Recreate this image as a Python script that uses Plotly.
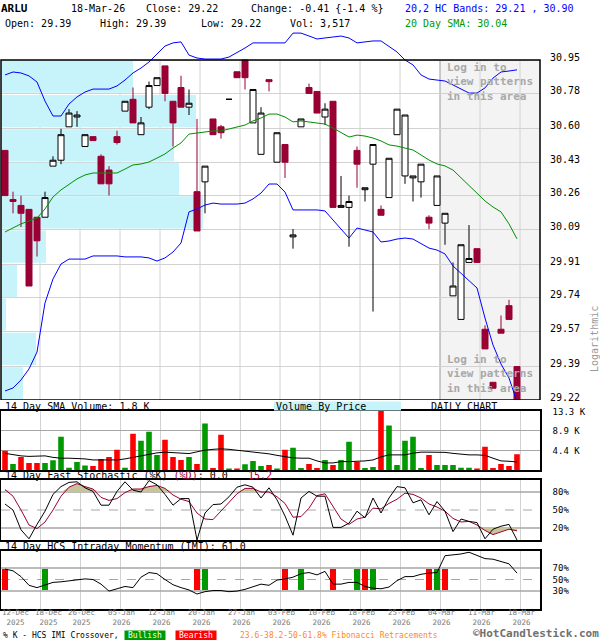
import datetime as dt
import plotly.graph_objects as go

# ---------------- daily data ----------------
TICKER = "ARLU"

trade_dates = [
    "2025-12-12", "2025-12-15", "2025-12-16", "2025-12-17", "2025-12-18", "2025-12-19",
    "2025-12-22", "2025-12-23", "2025-12-24", "2025-12-26", "2025-12-29", "2025-12-30",
    "2025-12-31", "2026-01-02", "2026-01-05", "2026-01-06", "2026-01-07", "2026-01-08",
    "2026-01-09", "2026-01-12", "2026-01-13", "2026-01-14", "2026-01-15", "2026-01-16",
    "2026-01-20", "2026-01-21", "2026-01-22", "2026-01-23", "2026-01-26", "2026-01-27",
    "2026-01-28", "2026-01-29", "2026-01-30", "2026-02-02", "2026-02-03", "2026-02-04",
    "2026-02-05", "2026-02-06", "2026-02-09", "2026-02-10", "2026-02-11", "2026-02-12",
    "2026-02-13", "2026-02-17", "2026-02-18", "2026-02-19", "2026-02-20", "2026-02-23",
    "2026-02-24", "2026-02-25", "2026-02-26", "2026-02-27", "2026-03-02", "2026-03-03",
    "2026-03-04", "2026-03-05", "2026-03-06", "2026-03-09", "2026-03-10", "2026-03-11",
    "2026-03-12", "2026-03-13", "2026-03-16", "2026-03-17", "2026-03-18",
]

open_ = [30.49, 30.24, 30.21, 30.19, 30.15, 30.15, 30.41, 30.44, 30.61, 30.66,
         30.51, 30.56, 30.46, 30.39, 30.56, 30.69, 30.75, 30.57, 30.71, 30.82,
         30.92, 30.74, 30.81, 30.71, 30.28, 30.33, 30.65, 30.61, 30.75, 30.89,
         30.95, 30.63, 30.47, 30.85, 30.43, 30.52, 30.05, 30.61, 30.81, 30.79,
         30.66, 30.74, 30.20, 30.20, 30.49, 30.29, 30.42, 30.19, 30.25, 30.57,
         30.36, 30.35, 30.33, 30.15, 30.21, 30.12, 29.75, 29.63, 29.92, 29.99,
         29.58, 29.31, 29.58, 29.70, 29.39]
high = [30.49, 30.28, 30.26, 30.19, 30.15, 30.28, 30.46, 30.60, 30.70, 30.69,
        30.57, 30.56, 30.47, 30.41, 30.59, 30.74, 30.81, 30.66, 30.84, 30.86,
        30.92, 30.74, 30.87, 30.80, 30.65, 30.41, 30.65, 30.62, 30.75, 30.89,
        30.95, 30.80, 30.71, 30.85, 30.58, 30.52, 30.09, 30.65, 30.83, 30.79,
        30.73, 30.74, 30.36, 30.26, 30.51, 30.30, 30.52, 30.21, 30.45, 30.70,
        30.67, 30.36, 30.42, 30.16, 30.36, 30.17, 29.92, 30.01, 30.11, 29.99,
        29.60, 29.31, 29.65, 29.73, 29.39]
low = [30.26, 30.17, 30.10, 29.80, 29.95, 30.15, 30.41, 30.42, 30.61, 30.61,
       30.51, 30.54, 30.32, 30.26, 30.52, 30.69, 30.63, 30.57, 30.70, 30.82,
       30.74, 30.51, 30.71, 30.67, 30.08, 30.17, 30.57, 30.55, 30.75, 30.86,
       30.80, 30.63, 30.47, 30.79, 30.43, 30.35, 29.99, 30.61, 30.78, 30.68,
       30.62, 30.20, 30.20, 30.00, 30.30, 30.23, 29.67, 30.16, 30.25, 30.57,
       30.32, 30.23, 30.25, 30.09, 30.21, 30.01, 29.75, 29.63, 29.92, 29.92,
       29.48, 29.28, 29.56, 29.63, 29.22]
close = [30.26, 30.23, 30.17, 29.80, 30.03, 30.25, 30.44, 30.57, 30.68, 30.67,
         30.57, 30.54, 30.32, 30.32, 30.53, 30.74, 30.63, 30.63, 30.82, 30.86,
         30.78, 30.63, 30.71, 30.73, 30.08, 30.41, 30.57, 30.58, 30.75, 30.86,
         30.86, 30.80, 30.68, 30.84, 30.58, 30.43, 30.06, 30.65, 30.78, 30.68,
         30.70, 30.20, 30.21, 30.23, 30.42, 30.30, 30.52, 30.16, 30.45, 30.70,
         30.67, 30.36, 30.42, 30.12, 30.36, 30.17, 29.80, 30.01, 29.94, 29.92,
         29.48, 29.28, 29.56, 29.63, 29.22]

volume = [4280, 1350, 2930, 1580, 1580, 1580, 2180, 7440, 530, 1800,
          980, 900, 2480, 2930, 4500, 530, 8100, 6540, 8570, 3380,
          6760, 2930, 2250, 2930, 1350, 10370, 450, 7900, 230, 230,
          1280, 2030, 900, 1130, 230, 4500, 4960, 450, 1350, 450,
          2250, 1130, 2250, 6310, 1800, 450, 680, 14000, 9920, 1130,
          6540, 7440, 450, 3380, 1130, 1130, 1130, 530, 530, 230,
          5180, 450, 1350, 900, 3517]
# 1 = green (up-volume) bar, 0 = red bar
vol_up = [0, 1, 0, 0, 0, 1, 1, 1, 1, 1,
          1, 0, 0, 0, 0, 1, 0, 1, 1, 1,
          0, 0, 0, 1, 0, 1, 0, 0, 1, 0,
          1, 1, 1, 0, 1, 0, 1, 1, 0, 0,
          1, 0, 1, 1, 0, 1, 1, 0, 1, 1,
          1, 1, 1, 0, 1, 1, 1, 1, 1, 0,
          0, 0, 0, 0, 0]
vol_sma14 = [3720, 3380, 3160, 3040, 3040, 3160, 2820, 2640, 2640, 2640,
             2480, 2250, 2250, 2250, 2250, 2480, 2820, 3270, 3540, 3830,
             3990, 3830, 3670, 3670, 4060, 4440, 4620, 4730, 4620, 4440,
             4280, 4130, 3830, 3610, 3270, 2930, 2710, 2640, 2640, 2030,
             1580, 1580, 1870, 1870, 1870, 2030, 2250, 2930, 3380, 3380,
             3380, 3760, 3990, 3990, 3990, 3940, 3720, 3490, 3380, 3380,
             3270, 2640, 2030, 1950, 1800]

bb_upper = [30.874, 30.889, 30.884, 30.869, 30.838, 30.741, 30.665, 30.665, 30.726, 30.762,
            30.787, 30.802, 30.802, 30.802, 30.818, 30.848, 30.884, 30.909, 30.940, 30.981,
            31.021, 31.037, 31.042, 30.975, 30.960, 30.955, 30.955, 30.955, 30.965, 30.986,
            31.011, 31.037, 31.037, 31.037, 31.037, 31.037, 31.087, 31.087, 31.072, 31.057,
            31.062, 31.067, 31.072, 31.062, 31.037, 31.042, 31.047, 31.047, 31.021, 30.991,
            30.950, 30.925, 30.874, 30.853, 30.848, 30.843, 30.823, 30.802, 30.782, 30.782,
            30.808, 30.858, 30.889, 30.894, 30.900]
bb_lower = [29.266, 29.281, 29.322, 29.378, 29.464, 29.714, 29.836, 29.912, 29.937, 29.937,
            29.937, 29.953, 29.953, 29.953, 29.953, 29.948, 29.948, 29.948, 29.943, 29.927,
            29.943, 29.973, 30.019, 30.177, 30.192, 30.212, 30.222, 30.217, 30.217, 30.217,
            30.222, 30.243, 30.273, 30.319, 30.319, 30.278, 30.187, 30.187, 30.187, 30.187,
            30.182, 30.136, 30.090, 30.044, 30.095, 30.085, 30.075, 30.024, 30.029, 30.039,
            30.044, 30.039, 30.014, 29.993, 29.983, 29.963, 29.902, 29.866, 29.826, 29.790,
            29.637, 29.500, 29.403, 29.332, 29.210]
sma20 = [30.075, 30.095, 30.116, 30.131, 30.146, 30.192, 30.253, 30.289, 30.319, 30.345,
         30.365, 30.375, 30.375, 30.375, 30.375, 30.395, 30.416, 30.421, 30.431, 30.451,
         30.472, 30.502, 30.528, 30.573, 30.579, 30.584, 30.589, 30.589, 30.599, 30.609,
         30.619, 30.640, 30.655, 30.675, 30.675, 30.660, 30.635, 30.640, 30.635, 30.629,
         30.624, 30.604, 30.579, 30.558, 30.568, 30.563, 30.553, 30.538, 30.518, 30.512,
         30.502, 30.492, 30.467, 30.441, 30.421, 30.411, 30.390, 30.350, 30.309, 30.273,
         30.233, 30.202, 30.177, 30.116, 30.040]

stoch_k = [60, 50, 17, 2, 26, 48, 76, 89, 96, 97,
           87, 81, 58, 58, 81, 97, 83, 80, 99, 92,
           76, 58, 69, 69, 0, 45, 59, 60, 72, 88,
           92, 88, 70, 87, 67, 40, 8, 70, 81, 73,
           73, 21, 21, 28, 48, 37, 70, 45, 70, 89,
           87, 62, 67, 42, 64, 48, 14, 35, 31, 29,
           2, 18, 23, 26, 0.0]
stoch_d = [84, 73, 50, 25, 19, 30, 50, 73, 88, 94,
           89, 85, 71, 66, 69, 79, 85, 85, 89, 91,
           86, 75, 68, 64, 45, 35, 34, 48, 63, 77,
           86, 86, 80, 80, 72, 61, 38, 39, 53, 74,
           77, 55, 35, 26, 35, 38, 53, 52, 61, 68,
           78, 76, 70, 60, 55, 48, 36, 30, 31, 25,
           16, 9, 14, 18, 15.2]

imi = [68, 65, 55, 40, 36, 41, 45, 46, 48, 50,
       51, 50, 42, 30, 34, 38, 36, 54, 62, 60,
       50, 41, 36, 32, 25, 29, 31, 31, 29, 30,
       33, 38, 42, 40, 49, 51, 54, 60, 62, 58,
       64, 42, 42, 45, 45, 38, 35, 34, 37, 48,
       55, 55, 59, 61, 62, 91, 92, 94, 97, 91,
       86, 85, 81, 77, 61.0]
# %K / IMI crossover days (index into trade_dates)
cross_bull = [5, 25, 37, 44, 46, 54]
cross_bear = [0, 24, 35, 41, 45, 53, 55]

# price scale labels and volume-by-price per band (band k spans label k..k+1)
price_ticks = [29.22, 29.39, 29.57, 29.74, 29.91, 30.09, 30.26, 30.43, 30.60, 30.78, 30.95]
vbp_volume = [4400, 7000, 1000, 3200, 9000, 40400, 35600, 34600, 39000, 26400]

vol_ticks = [4400, 8900, 13300]
stoch_ticks = [20, 50, 80]
imi_ticks = [30, 50, 70]

axis_label_dates = ["2025-12-12", "2025-12-18", "2025-12-26", "2026-01-05", "2026-01-12",
                    "2026-01-20", "2026-01-27", "2026-02-03", "2026-02-10", "2026-02-18",
                    "2026-02-25", "2026-03-04", "2026-03-11", "2026-03-18"]
locked_from = "2026-03-04"

# ---------------- page geometry (pixels) ----------------
W, H = 600, 640
PLOT_L, PLOT_R = 1, 540
MAIN_TOP, MAIN_BOT, MAIN_EXT = 60, 400, 28
VOL_TOP, VOL_BOT = 410.5, 470
STO_TOP, STO_BOT = 480, 540
IMI_TOP, IMI_BOT = 550.5, 608.5
SLOT, FIRST_X = 8, 5          # pixels per trading day, centre of first candle
GRID_OFF = 3 / SLOT

MONO = "DejaVu Sans Mono"
CRIMSON = "#990033"
GREEN = "#009900"
RED = "#ff0000"
BLUE = "#0000ff"
CYAN = "#c6f4fa"
KHAKI = "#c9c39a"
GRID_LIGHT = "#d2d2d2"
GRID_DARK = "#a6a6a6"


def py2paper(py):
    return 1 - py / H


def px2paper(px):
    return (px - PLOT_L) / (PLOT_R - PLOT_L)


n = len(trade_dates)
xi = list(range(n))
x_lo = (PLOT_L - FIRST_X) / SLOT
x_hi = (PLOT_R - FIRST_X) / SLOT

p_lo, p_hi = price_ticks[0], price_ticks[-1]
per_px = (p_hi - p_lo) / (MAIN_BOT - MAIN_TOP)
p_ext = p_hi + (MAIN_TOP - MAIN_EXT) * per_px

label_idx = [trade_dates.index(d) for d in axis_label_dates]
grid_x = [i + GRID_OFF for i in label_idx[1:]]
lock_x = trade_dates.index(locked_from) + GRID_OFF

band_mid = [(a + b) / 2 for a, b in zip(price_ticks[:-1], price_ticks[1:])]
band_h = price_ticks[1] - price_ticks[0]
vbp_range = (PLOT_R - PLOT_L) * 200  # shares per pixel of bar length = 200

fig = go.Figure()

# ---- main price panel ----
fig.add_trace(go.Bar(
    x=vbp_volume, y=band_mid, orientation="h", width=band_h * 0.965,
    marker=dict(color=CYAN, line=dict(width=0)), xaxis="x", yaxis="y",
    hoverinfo="skip"))

fig.add_trace(go.Candlestick(
    x=xi, open=open_, high=high, low=low, close=close,
    text=trade_dates, xaxis="x2", yaxis="y", whiskerwidth=0,
    increasing=dict(line=dict(color="black", width=1), fillcolor="white"),
    decreasing=dict(line=dict(color=CRIMSON, width=1), fillcolor=CRIMSON)))

fig.add_trace(go.Scatter(x=xi, y=sma20, mode="lines", xaxis="x2", yaxis="y",
                         line=dict(color="#008f00", width=1)))
fig.add_trace(go.Scatter(x=xi, y=bb_upper, mode="lines", xaxis="x2", yaxis="y",
                         line=dict(color=BLUE, width=1)))
fig.add_trace(go.Scatter(x=xi, y=bb_lower, mode="lines", xaxis="x2", yaxis="y",
                         line=dict(color=BLUE, width=1)))

# ---- volume panel ----
fig.add_trace(go.Bar(
    x=xi, y=volume, width=0.7, xaxis="x3", yaxis="y3",
    marker=dict(color=[GREEN if u else RED for u in vol_up], line=dict(width=0))))
fig.add_trace(go.Scatter(x=xi, y=vol_sma14, mode="lines", xaxis="x3", yaxis="y3",
                         line=dict(color="black", width=1)))

# ---- fast stochastic panel ----
over_b = [max(d, 80) for d in stoch_d]
over_s = [min(d, 20) for d in stoch_d]
for base, edge in ((80, over_b), (20, over_s)):
    fig.add_trace(go.Scatter(x=xi, y=[base] * n, mode="lines", xaxis="x4", yaxis="y4",
                             line=dict(width=0), hoverinfo="skip"))
    fig.add_trace(go.Scatter(x=xi, y=edge, mode="lines", xaxis="x4", yaxis="y4",
                             line=dict(width=0), fill="tonexty", fillcolor=KHAKI,
                             hoverinfo="skip"))
fig.add_trace(go.Scatter(x=xi, y=stoch_d, mode="lines", xaxis="x4", yaxis="y4",
                         line=dict(color=CRIMSON, width=1)))
fig.add_trace(go.Scatter(x=xi, y=stoch_k, mode="lines", xaxis="x4", yaxis="y4",
                         line=dict(color="black", width=1)))

# ---- intraday momentum panel ----
SIG_LO, SIG_HI = 32, 68
fig.add_trace(go.Bar(x=cross_bear, y=[SIG_HI - SIG_LO] * len(cross_bear), base=SIG_LO,
                     width=0.75, marker=dict(color=RED, line=dict(width=0)),
                     xaxis="x5", yaxis="y5"))
fig.add_trace(go.Bar(x=cross_bull, y=[SIG_HI - SIG_LO] * len(cross_bull), base=SIG_LO,
                     width=0.75, marker=dict(color=GREEN, line=dict(width=0)),
                     xaxis="x5", yaxis="y5"))
fig.add_trace(go.Scatter(x=xi, y=imi, mode="lines", xaxis="x5", yaxis="y5",
                         line=dict(color="black", width=1)))

# ---------------- axes ----------------
frame = dict(showline=True, mirror=True, linecolor="black", linewidth=1.5)


def time_axis(anchor, **kw):
    d = dict(anchor=anchor, domain=[0, 1], range=[x_lo, x_hi], showticklabels=False,
             ticks="", zeroline=False, showgrid=True, gridcolor=GRID_LIGHT, gridwidth=1,
             tickmode="array", tickvals=grid_x, fixedrange=True, automargin=False)
    d.update(frame)
    d.update(kw)
    return d


def side_axis(anchor, top, bot, rng, vals, text, grid, shift=0):
    d = dict(anchor=anchor, domain=[py2paper(bot), py2paper(top)], range=rng,
             side="right", tickmode="array", tickvals=vals, ticktext=text,
             showgrid=grid, gridcolor=GRID_DARK, gridwidth=1, zeroline=False,
             ticks="", ticklabelstandoff=9, ticklabelshift=shift, fixedrange=True,
             automargin=False, tickfont=dict(family=MONO, size=9, color="black"))
    d.update(frame)
    return d


fig.update_layout(
    width=W, height=H, autosize=False,
    margin=dict(l=PLOT_L, r=W - PLOT_R, t=0, b=0, pad=0, autoexpand=False),
    paper_bgcolor="white", plot_bgcolor="rgba(0,0,0,0)",
    showlegend=False, boxgap=0.25, boxgroupgap=0, barmode="overlay",
    font=dict(family=MONO, size=10, color="black"),
    xaxis=dict(anchor="y", domain=[0, 1], range=[0, vbp_range], visible=False,
               fixedrange=True, automargin=False),
    xaxis2=dict(anchor="y", overlaying="x", range=[x_lo, x_hi], visible=False,
                rangeslider=dict(visible=False), fixedrange=True, automargin=False),
    yaxis=dict(anchor="x", domain=[py2paper(MAIN_BOT), py2paper(MAIN_EXT)],
               range=[p_lo, p_ext], side="right", tickmode="array",
               tickvals=price_ticks, ticktext=[f"{p:.2f}" for p in price_ticks],
               showgrid=True, gridcolor=GRID_LIGHT, zeroline=False, ticks="",
               ticklabelstandoff=9, ticklabelshift=-3, fixedrange=True, automargin=False,
               tickfont=dict(family=MONO, size=10, color="black")),
    xaxis3=time_axis("y3"),
    yaxis3=side_axis("x3", VOL_TOP, VOL_BOT, [0, vol_ticks[-1]], vol_ticks,
                     [f"{v / 1000:.1f} K" for v in vol_ticks], True, shift=1),
    xaxis4=time_axis("y4"),
    yaxis4=side_axis("x4", STO_TOP, STO_BOT, [0, 100], stoch_ticks,
                     [f"{v}%" for v in stoch_ticks], False),
    xaxis5=time_axis("y5"),
    yaxis5=side_axis("x5", IMI_TOP, IMI_BOT, [0, 100], imi_ticks,
                     [f"{v}%" for v in imi_ticks], False),
)

# ---------------- shapes ----------------
shapes = [
    # locked pattern area
    dict(type="rect", xref="x2", yref="y", x0=lock_x, x1=x_hi, y0=p_lo, y1=p_hi,
         fillcolor="#f3f3f3", line=dict(width=0), layer="below"),
]
for g in grid_x:
    shapes.append(dict(type="line", xref="x2", yref="y", x0=g, x1=g, y0=p_lo, y1=p_hi,
                       line=dict(color="#9a9a9a" if g == lock_x else GRID_LIGHT, width=1),
                       layer="below"))
shapes.append(dict(type="rect", xref="paper", yref="y", x0=0, x1=1, y0=p_lo, y1=p_hi,
                   line=dict(color="black", width=1.5), layer="above"))
# reference levels in the oscillator panels
for ax, solid, dashed in (("4", (20, 80), 50), ("5", (30, 70), 50)):
    for lvl in solid:
        shapes.append(dict(type="line", xref="x" + ax, yref="y" + ax, x0=x_lo, x1=x_hi,
                           y0=lvl, y1=lvl, line=dict(color=GRID_DARK, width=1.5),
                           layer="between"))
    shapes.append(dict(type="line", xref="x" + ax, yref="y" + ax, x0=x_lo, x1=x_hi,
                       y0=dashed, y1=dashed, line=dict(color=GRID_DARK, width=1, dash="dash"),
                       layer="between"))
# label strip behind "Volume By Price"
shapes.append(dict(type="rect", xref="paper", yref="paper",
                   x0=px2paper(274), x1=px2paper(401), y0=py2paper(410.5), y1=py2paper(401.5),
                   fillcolor=CYAN, line=dict(width=0), layer="above"))
fig.update_layout(shapes=shapes)


# ---------------- text ----------------
def label(text, px, py, size=10, color="black", xanchor="left", **kw):
    fig.add_annotation(text=text, xref="paper", yref="paper", x=px2paper(px), y=py2paper(py),
                       xanchor=xanchor, yanchor="middle", showarrow=False, borderpad=0,
                       font=dict(family=MONO, size=size, color=color), **kw)


last_day = dt.date.fromisoformat(trade_dates[-1])
chg = close[-1] - close[-2]
chg_pct = chg / close[-2] * 100

label(f"<b>{TICKER}</b>", 0, 9, size=11)
label(last_day.strftime("%d-%b-%y"), 70, 9)
label(f"Close: {close[-1]:.2f}", 145, 9)
label(f"Change: {chg:.2f} {{{chg_pct:.1f} %}}", 250, 9)
label(f"20,2 HC Bands: {bb_lower[-1]:.2f} , {bb_upper[-1]:.2f}", 404, 9, color=BLUE)
label(f"Open: {open_[-1]:.2f}", 4, 24)
label(f"High: {high[-1]:.2f}", 99, 24)
label(f"Low: {low[-1]:.2f}", 200, 24)
label(f"Vol: {volume[-1]:,}", 289, 24)
label(f"20 Day SMA: {sma20[-1]:.2f}", 404, 24, color="#009900")

lock_msg = "<b>Log in to<br>view patterns<br>in this area</b>"
label(lock_msg, 446, 82, size=11, color="#a8a8a8", align="left")
label(lock_msg, 446, 374, size=11, color="#a8a8a8", align="left")
label("Logarithmic", 594, 339, color="#999999", xanchor="center", textangle=-90)

label(f"14 Day SMA Volume: {vol_sma14[-1] / 1000:.1f} K", 4, 406)
label("Volume By Price", 275, 406)
label("DAILY CHART", 430, 406)
label(f"14 Day Fast Stochastic (%K) <span style='color:{CRIMSON}'>(%D)</span>: "
      f"{stoch_k[-1]:.1f}", 4, 475)
label(f"{stoch_d[-1]:.1f}", 247, 475, color=CRIMSON)
label(f"14 Day HCS Intraday Momentum (IMI): {imi[-1]:.1f}", 4, 546)

# date axis under the last panel: day-month over year
for k, i in enumerate(label_idx):
    d = dt.date.fromisoformat(trade_dates[i])
    if k == 0:
        xpos, anchor, shift = x_lo, "left", 0
    else:
        xpos, anchor, shift = i + GRID_OFF, "center", (8 if k == 1 else 1.5)
    fig.add_annotation(text=d.strftime("%d-%b") + "<br>" + d.strftime("%Y"),
                       xref="x5", yref="paper", x=xpos, y=py2paper(617.9),
                       xanchor=anchor, yanchor="middle", xshift=shift, showarrow=False,
                       borderpad=0, font=dict(family=MONO, size=7.5, color="#7a7a7a"))

label("% K - HCS IMI Crossover,", 2, 635, size=8)
label("Bullish", 124, 635, size=8, color="white", bgcolor=GREEN, width=40, align="center")
label("Bearish", 175, 635, size=8, color="white", bgcolor=RED, width=40, align="center")
label("23.6-38.2-50-61.8% Fibonacci Retracements", 239, 635, size=8, color="#ff8a1a")
label("<b>\u00a9HotCandlestick.com</b>", 600, 633.6, size=11, color="#707070", xanchor="right")

fig.write_html("out.html")
